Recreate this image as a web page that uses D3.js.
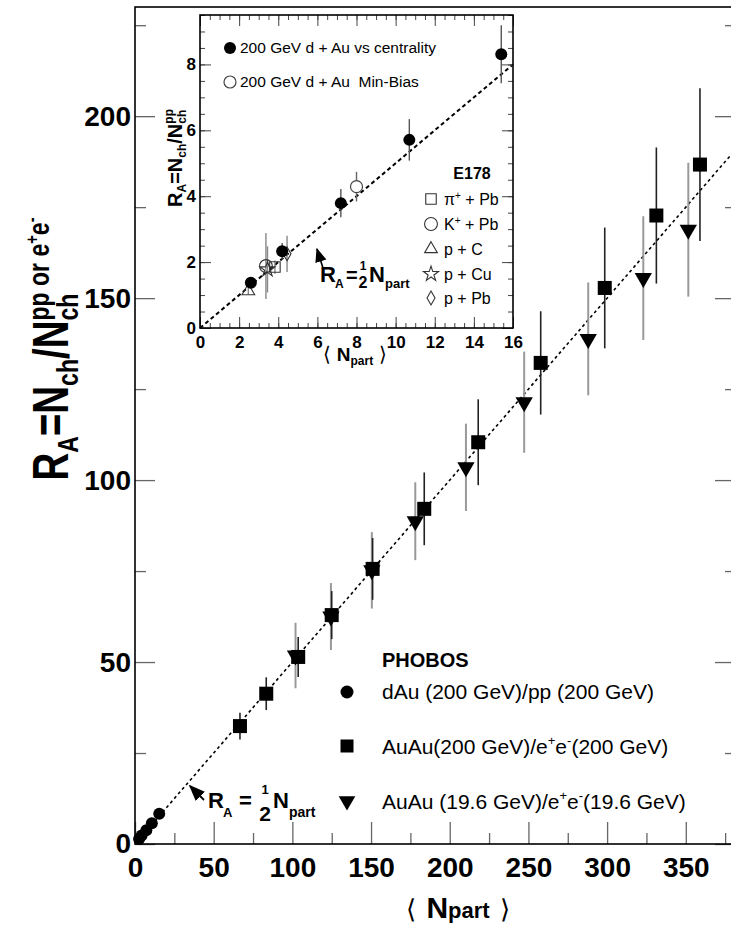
<!DOCTYPE html>
<html>
<head>
<meta charset="utf-8">
<script src="https://cdn.jsdelivr.net/npm/d3@7"></script>
<style>
  body { margin: 0; background: #fff; }
  svg { display: block; font-family: "Liberation Sans", Arial, Helvetica, sans-serif; }
</style>
</head>
<body>
<svg id="chart" width="731" height="926"></svg>
<script>
// ---- main panel data ----
const dAuNpart = [2.6, 4.2, 7.2, 10.7, 15.4];
const dAuRA    = [1.37, 2.33, 3.79, 5.71, 8.31];
const dAuErr   = [0.15, 0.25, 0.43, 0.63, 0.88];

const auau200Npart = [66.7, 83.4, 103.7, 125.0, 151.0, 183.8, 218.1, 257.8, 298.5, 331.3, 359.0];
const auau200RA    = [32.4, 41.3, 51.4, 62.9, 75.6, 92.1, 110.4, 132.2, 152.8, 172.7, 186.7];
const auau200Err   = [3.7, 4.5, 5.5, 6.6, 8.5, 10.0, 11.8, 14.2, 16.6, 18.7, 21.0];

const auau19Npart = [102.0, 124.5, 150.5, 178.1, 210.3, 247.3, 288.0, 323.0, 351.6];
const auau19RA    = [51.8, 62.5, 75.2, 88.7, 103.5, 121.4, 138.8, 155.5, 168.8];
const auau19Err   = [9.0, 9.2, 10.5, 10.7, 12.0, 13.9, 15.5, 17.0, 18.4];

const xTicks = [0, 50, 100, 150, 200, 250, 300, 350];
const xMinorTicks = [25, 75, 125, 175, 225, 275, 325, 375];
const yTicks = [0, 50, 100, 150, 200];
const yMinorTicks = [25, 75, 125, 175, 225];

// ---- inset data ----
const mbNpart = [8.0];
const mbRA = [4.29];
const mbErr = [0.45];

const e178Names = ["π", "K", "p + C", "p + Cu", "p + Pb"];
const e178Npart = [3.83, 3.37, 2.47, 3.45, 4.45];
const e178RA    = [1.85, 1.88, 1.12, 1.78, 2.25];
const e178Err   = [0.2, 1.0, 0.1, 0.7, 0.55];

const insetXTicks = [0, 2, 4, 6, 8, 10, 12, 14, 16];
const insetYTicks = [0, 2, 4, 6, 8];

const svg = d3.select('#chart');
const FONT = '"Liberation Sans", Arial, Helvetica, sans-serif';

// arrow head
svg.append('defs').append('marker')
  .attr('id', 'arr').attr('viewBox', '0 0 10 10').attr('refX', 9).attr('refY', 5)
  .attr('markerWidth', 9).attr('markerHeight', 9).attr('orient', 'auto-start-reverse')
  .append('path').attr('d', 'M0,1 L10,5 L0,9 z').attr('fill', '#000');

function cleanAxis(g, color, width) {
  g.select('.domain').remove();
  g.selectAll('.tick line').attr('stroke', color).attr('stroke-width', width);
  g.selectAll('text').attr('font-family', FONT).attr('fill', '#000').attr('font-weight', 'bold');
}

// sequence of text pieces; "stack" puts a piece at the start of the previous one
function rich(parent, parts) {
  const g = parent.append('g');
  let cx = 0, prevStart = 0;
  parts.forEach(p => {
    const start = p.stack ? prevStart : cx + (p.gap || 0);
    const t = g.append('text')
      .attr('x', start).attr('y', p.dy || 0)
      .attr('font-size', p.size)
      .attr('font-weight', p.bold === false ? 'normal' : 'bold')
      .text(p.t);
    const w = t.node().getComputedTextLength();
    if (!p.stack) prevStart = start;
    cx = Math.max(cx, start + w);
  });
  return { g, width: cx };
}

function symbolPath(type, size) {
  return d3.symbol().type(type).size(size)();
}

// ======== MAIN PANEL ========
const x = d3.scaleLinear().domain([0, 380]).range([135, 733]);
const y = d3.scaleLinear().domain([0, 230]).range([844, 7]);

// ticks
svg.append('g').attr('transform', `translate(0,${y(0)})`)
  .call(d3.axisBottom(x).tickValues(xMinorTicks).tickSize(-11).tickFormat(''))
  .call(g => cleanAxis(g, '#666', 1.3));
svg.append('g').attr('transform', `translate(0,${y(0)})`)
  .call(d3.axisBottom(x).tickValues(xTicks).tickSize(-22).tickPadding(13))
  .call(g => cleanAxis(g, '#666', 1.3))
  .call(g => g.selectAll('text').attr('font-size', 28));

svg.append('g').attr('transform', `translate(${x(0)},0)`)
  .call(d3.axisLeft(y).tickValues(yMinorTicks).tickSize(-11).tickFormat(''))
  .call(g => cleanAxis(g, '#666', 1.3));
svg.append('g').attr('transform', `translate(${x(0)},0)`)
  .call(d3.axisLeft(y).tickValues(yTicks).tickSize(-20).tickPadding(4))
  .call(g => cleanAxis(g, '#666', 1.3))
  .call(g => g.selectAll('text').attr('font-size', 28));

// mirrored ticks on the right side
svg.append('g').attr('transform', `translate(${x(380)},0)`)
  .call(d3.axisLeft(y).tickValues(yMinorTicks).tickSize(8).tickFormat(''))
  .call(g => cleanAxis(g, '#666', 1.3));
svg.append('g').attr('transform', `translate(${x(380)},0)`)
  .call(d3.axisLeft(y).tickValues(yTicks).tickSize(18).tickFormat(''))
  .call(g => cleanAxis(g, '#666', 1.3));

// frame
svg.append('rect')
  .attr('x', x(0)).attr('y', y(230))
  .attr('width', x(380) - x(0)).attr('height', y(0) - y(230))
  .attr('fill', 'none').attr('stroke', '#000').attr('stroke-width', 1.6);

// R_A = Npart / 2
const half = d3.line().x(d => x(d)).y(d => y(d / 2));
svg.append('path').datum([0, 380]).attr('d', half)
  .attr('fill', 'none').attr('stroke', '#000').attr('stroke-width', 1.6)
  .attr('stroke-dasharray', '3,3');

// error bars
const bars = (xs, ys, es, color, w) => svg.append('g').selectAll('line')
  .data(xs).enter().append('line')
  .attr('x1', d => x(d)).attr('x2', d => x(d))
  .attr('y1', (d, i) => y(ys[i] - es[i])).attr('y2', (d, i) => y(ys[i] + es[i]))
  .attr('stroke', color).attr('stroke-width', w);
bars(auau19Npart, auau19RA, auau19Err, '#999', 2);
bars(auau200Npart, auau200RA, auau200Err, '#222', 1.6);

svg.append('g').selectAll('path').data(auau19Npart).enter().append('path')
  .attr('d', symbolPath(d3.symbolTriangle, 130))
  .attr('transform', (d, i) => `translate(${x(d)},${y(auau19RA[i])}) rotate(180)`)
  .attr('fill', '#000');
svg.append('g').selectAll('rect').data(auau200Npart).enter().append('rect')
  .attr('x', d => x(d) - 7).attr('y', (d, i) => y(auau200RA[i]) - 7)
  .attr('width', 14).attr('height', 14).attr('fill', '#000');
svg.append('g').selectAll('circle').data(dAuNpart).enter().append('circle')
  .attr('cx', d => x(d)).attr('cy', (d, i) => y(dAuRA[i])).attr('r', 6).attr('fill', '#000');

// annotation R_A = 1/2 Npart
svg.append('line').attr('x1', 204).attr('y1', 800).attr('x2', 190).attr('y2', 786)
  .attr('stroke', '#000').attr('stroke-width', 1.8).attr('marker-end', 'url(#arr)');
const ann = svg.append('g').attr('font-family', FONT).attr('font-weight', 'bold');
ann.append('text').attr('x', 208).attr('y', 808).attr('font-size', 22).text('R');
ann.append('text').attr('x', 223).attr('y', 817).attr('font-size', 13).text('A');
ann.append('text').attr('x', 239).attr('y', 808).attr('font-size', 22).text('=');
ann.append('text').attr('x', 265).attr('y', 794).attr('font-size', 13).attr('text-anchor', 'middle').text('1');
ann.append('text').attr('x', 265).attr('y', 821).attr('font-size', 21).attr('text-anchor', 'middle').text('2');
ann.append('text').attr('x', 273).attr('y', 808).attr('font-size', 22).text('N');
ann.append('text').attr('x', 289).attr('y', 817).attr('font-size', 14).text('part');

// legend
const leg = svg.append('g').attr('font-family', FONT);
leg.append('text').attr('x', 382).attr('y', 667).attr('font-size', 20).attr('font-weight', 'bold').text('PHOBOS');
leg.append('circle').attr('cx', 347).attr('cy', 692).attr('r', 6.5).attr('fill', '#000');
leg.append('rect').attr('x', 340.5).attr('y', 739.5).attr('width', 13).attr('height', 13).attr('fill', '#000');
leg.append('path').attr('d', symbolPath(d3.symbolTriangle, 120))
  .attr('transform', 'translate(347,801) rotate(180)').attr('fill', '#000');
leg.append('text').attr('x', 382).attr('y', 699).attr('font-size', 21).text('dAu (200 GeV)/pp (200 GeV)');
function eeLine(yy, a, b) {
  const t = leg.append('text').attr('x', 382).attr('y', yy).attr('font-size', 21);
  t.append('tspan').text(a);
  t.append('tspan').attr('font-size', 13).attr('dy', -9).text('+');
  t.append('tspan').attr('dy', 9).text('e');
  t.append('tspan').attr('font-size', 13).attr('dy', -9).text('-');
  t.append('tspan').attr('dy', 9).text(b);
}
eeLine(754, 'AuAu(200 GeV)/e', '(200 GeV)');
eeLine(809, 'AuAu (19.6 GeV)/e', '(19.6 GeV)');

// axis titles
const xt = svg.append('g').attr('font-family', FONT);
const xr = rich(xt, [
  { t: '\u27E8', size: 26, bold: false },
  { t: 'N', size: 30, gap: 10 },
  { t: 'part', size: 22 },
  { t: '\u27E9', size: 26, bold: false, gap: 10 }
]);
xt.attr('transform', `translate(${458 - xr.width / 2},918)`);

const yt = svg.append('g').attr('font-family', FONT);
const yr = rich(yt, [
  { t: 'R', size: 50 },
  { t: 'A', size: 30, dy: 10 },
  { t: '=', size: 50 },
  { t: 'N', size: 50 },
  { t: 'ch', size: 30, dy: 10 },
  { t: '/', size: 50 },
  { t: 'N', size: 50 },
  { t: 'ch', size: 30, dy: 10 },
  { t: 'pp or e', size: 30, dy: -19, stack: true },
  { t: '+', size: 19, dy: -30 },
  { t: 'e', size: 30, dy: -19 },
  { t: '-', size: 19, dy: -30 }
]);
// squeeze along the text so it spans the same length as the reference
yr.g.attr('transform', `scale(${263 / yr.width},1) translate(${-yr.width / 2},0)`);
yt.attr('transform', 'translate(68,349) rotate(-90)');

// ======== INSET ========
const xi = d3.scaleLinear().domain([0, 16]).range([200, 513]);
const yi = d3.scaleLinear().domain([0, 9.5]).range([328, 15]);
const inset = svg.append('g');
inset.append('rect').attr('x', xi(0)).attr('y', yi(9.5))
  .attr('width', xi(16) - xi(0)).attr('height', yi(0) - yi(9.5)).attr('fill', '#fff');

const halfI = d3.line().x(d => xi(d)).y(d => yi(d / 2));
inset.append('path').datum([0, 16]).attr('d', halfI)
  .attr('fill', 'none').attr('stroke', '#000').attr('stroke-width', 2).attr('stroke-dasharray', '4,3');

const ibars = (xs, ys, es, color) => inset.append('g').selectAll('line')
  .data(xs).enter().append('line')
  .attr('x1', d => xi(d)).attr('x2', d => xi(d))
  .attr('y1', (d, i) => yi(ys[i] - es[i])).attr('y2', (d, i) => yi(ys[i] + es[i]))
  .attr('stroke', color).attr('stroke-width', 1.4);
ibars(e178Npart, e178RA, e178Err, '#888');
ibars(mbNpart, mbRA, mbErr, '#666');
ibars(dAuNpart, dAuRA, dAuErr, '#555');

const e178Symbols = [
  d3.symbol().type(d3.symbolSquare).size(110)(),
  d3.symbol().type(d3.symbolCircle).size(130)(),
  d3.symbol().type(d3.symbolTriangle).size(70)(),
  d3.symbol().type(d3.symbolStar).size(70)(),
  d3.symbol().type(d3.symbolDiamond).size(55)()
];
inset.append('g').selectAll('path').data(e178Npart).enter().append('path')
  .attr('d', (d, i) => e178Symbols[i])
  .attr('transform', (d, i) => `translate(${xi(d)},${yi(e178RA[i])})`)
  .attr('fill', 'none').attr('stroke', '#333').attr('stroke-width', 1.1);
inset.append('g').selectAll('circle').data(mbNpart).enter().append('circle')
  .attr('cx', d => xi(d)).attr('cy', (d, i) => yi(mbRA[i])).attr('r', 6)
  .attr('fill', '#fff').attr('stroke', '#444').attr('stroke-width', 1.2);
inset.append('g').selectAll('circle').data(dAuNpart).enter().append('circle')
  .attr('cx', d => xi(d)).attr('cy', (d, i) => yi(dAuRA[i])).attr('r', 6).attr('fill', '#000');

// inset ticks on all sides
const iMinorX = d3.range(0, 16.01, 0.5);
const iMinorY = d3.range(0, 9.51, 0.5);
inset.append('g').attr('transform', `translate(0,${yi(0)})`)
  .call(d3.axisBottom(xi).tickValues(iMinorX).tickSize(-5).tickFormat(''))
  .call(g => cleanAxis(g, '#444', 1));
inset.append('g').attr('transform', `translate(0,${yi(0)})`)
  .call(d3.axisBottom(xi).tickValues(insetXTicks).tickSize(-11).tickPadding(8))
  .call(g => cleanAxis(g, '#444', 1))
  .call(g => g.selectAll('text').attr('font-size', 17));
inset.append('g').attr('transform', `translate(0,${yi(9.5)})`)
  .call(d3.axisTop(xi).tickValues(iMinorX).tickSize(-5).tickFormat(''))
  .call(g => cleanAxis(g, '#444', 1));
inset.append('g').attr('transform', `translate(0,${yi(9.5)})`)
  .call(d3.axisTop(xi).tickValues(insetXTicks).tickSize(-11).tickFormat(''))
  .call(g => cleanAxis(g, '#444', 1));
inset.append('g').attr('transform', `translate(${xi(0)},0)`)
  .call(d3.axisLeft(yi).tickValues(iMinorY).tickSize(-5).tickFormat(''))
  .call(g => cleanAxis(g, '#444', 1));
inset.append('g').attr('transform', `translate(${xi(0)},0)`)
  .call(d3.axisLeft(yi).tickValues(insetYTicks).tickSize(-11).tickPadding(4))
  .call(g => cleanAxis(g, '#444', 1))
  .call(g => g.selectAll('text').attr('font-size', 17));
inset.append('g').attr('transform', `translate(${xi(16)},0)`)
  .call(d3.axisRight(yi).tickValues(iMinorY).tickSize(-5).tickFormat(''))
  .call(g => cleanAxis(g, '#444', 1));
inset.append('g').attr('transform', `translate(${xi(16)},0)`)
  .call(d3.axisRight(yi).tickValues(insetYTicks).tickSize(-11).tickFormat(''))
  .call(g => cleanAxis(g, '#444', 1));

inset.append('rect').attr('x', xi(0)).attr('y', yi(9.5))
  .attr('width', xi(16) - xi(0)).attr('height', yi(0) - yi(9.5))
  .attr('fill', 'none').attr('stroke', '#000').attr('stroke-width', 1.6);

// inset legend
const il = inset.append('g').attr('font-family', FONT).attr('font-size', 15.5);
il.append('circle').attr('cx', 230).attr('cy', 48).attr('r', 6).attr('fill', '#000');
il.append('text').attr('x', 240).attr('y', 53).text('200 GeV d + Au vs centrality');
il.append('circle').attr('cx', 230).attr('cy', 82).attr('r', 6).attr('fill', '#fff').attr('stroke', '#444').attr('stroke-width', 1.2);
il.append('text').attr('x', 240).attr('y', 87).text('200 GeV d + Au\u00A0 Min-Bias');
il.append('text').attr('x', 472).attr('y', 179).attr('text-anchor', 'middle')
  .attr('font-size', 16).attr('font-weight', 'bold').text('E178');
const itemY = [199, 224, 249, 274, 298];
e178Names.forEach((n, i) => {
  il.append('path').attr('d', e178Symbols[i]).attr('transform', `translate(431,${itemY[i]})`)
    .attr('fill', 'none').attr('stroke', '#333').attr('stroke-width', 1.1);
  const t = il.append('text').attr('x', 444).attr('y', itemY[i] + 6).attr('font-size', 16);
  t.append('tspan').text(n);
  if (i < 2) {
    t.append('tspan').attr('font-size', 10).attr('dy', -6).text('+');
    t.append('tspan').attr('dy', 6).text(' + Pb');
  }
});

// inset annotation
inset.append('line').attr('x1', 323).attr('y1', 268).attr('x2', 317).attr('y2', 249)
  .attr('stroke', '#000').attr('stroke-width', 1.6).attr('marker-end', 'url(#arr)');
const ia = inset.append('g').attr('font-family', FONT).attr('font-weight', 'bold');
ia.append('text').attr('x', 320).attr('y', 282).attr('font-size', 22).text('R');
ia.append('text').attr('x', 335).attr('y', 288).attr('font-size', 12).text('A');
ia.append('text').attr('x', 346).attr('y', 282).attr('font-size', 20).text('=');
ia.append('text').attr('x', 363).attr('y', 270).attr('font-size', 12).attr('text-anchor', 'middle').text('1');
ia.append('text').attr('x', 363).attr('y', 288).attr('font-size', 16).attr('text-anchor', 'middle').text('2');
ia.append('text').attr('x', 369).attr('y', 282).attr('font-size', 22).text('N');
ia.append('text').attr('x', 385).attr('y', 288).attr('font-size', 13).text('part');

// inset axis titles
const ixt = inset.append('g').attr('font-family', FONT);
const ixr = rich(ixt, [
  { t: '\u27E8', size: 20, bold: false },
  { t: 'N', size: 19, gap: 6 },
  { t: 'part', size: 12, dy: 4 },
  { t: '\u27E9', size: 20, bold: false, gap: 6 }
]);
ixt.attr('transform', `translate(${355 - ixr.width / 2},361)`);

const iyt = inset.append('g').attr('font-family', FONT);
const iyr = rich(iyt, [
  { t: 'R', size: 20 },
  { t: 'A', size: 12, dy: 4 },
  { t: '=', size: 20 },
  { t: 'N', size: 20 },
  { t: 'ch', size: 12, dy: 4 },
  { t: '/', size: 20 },
  { t: 'N', size: 20 },
  { t: 'ch', size: 12, dy: 4 },
  { t: 'pp', size: 12, dy: -9, stack: true }
]);
iyr.g.attr('transform', `translate(${-iyr.width / 2},0)`);
iyt.attr('transform', 'translate(182,158) rotate(-90)');
</script>
</body>
</html>
